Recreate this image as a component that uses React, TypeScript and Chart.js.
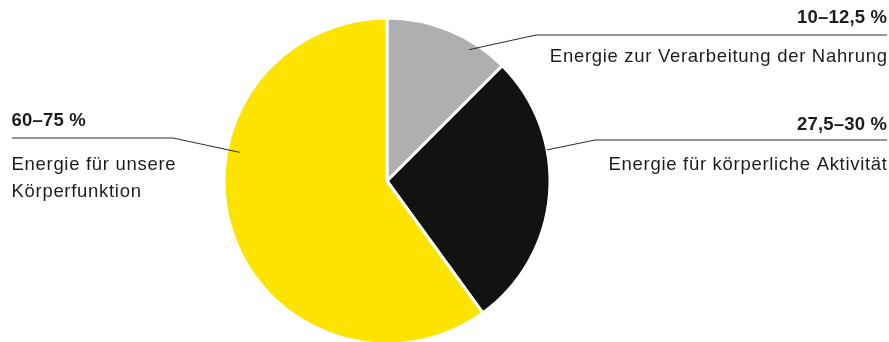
import React, { useEffect, useRef } from "react";
import { Chart, registerables } from "chart.js";

Chart.register(...registerables);

const categories = [
  "Energie zur Verarbeitung der Nahrung",
  "Energie für körperliche Aktivität",
  "Energie für unsere Körperfunktion",
];
const values = [12.5, 27.5, 60];
const valueLabels = ["10–12,5 %", "27,5–30 %", "60–75 %"];
const descLines = [
  ["Energie zur Verarbeitung der Nahrung"],
  ["Energie für körperliche Aktivität"],
  ["Energie für unsere", "Körperfunktion"],
];
const colors = ["#AEAFAE", "#121210", "#FCE300"];

// layout of the annotation callouts (positions only)
const callouts = [
  { angle: 32, rFrac: 0.95, elbow: [536, 35], lineEnd: 887, align: "right", x: 887, valueY: 22.5, descY: [61.5] },
  { angle: 79, rFrac: 1.0, elbow: [595, 140], lineEnd: 887, align: "right", x: 887, valueY: 130, descY: [170] },
  { angle: 281, rFrac: 0.92, elbow: [173, 138], lineEnd: 12, align: "left", x: 11.5, valueY: 125.5, descY: [170, 197] },
];

const TEXT = "#1d1d1b";
const FONT = '"Liberation Sans", Arial, Helvetica, sans-serif';
const BOLD_SPACING = 0.2;
const REG_SPACING = 0.7;

const calloutPlugin = {
  id: "calloutPlugin",
  afterDatasetsDraw(chart: any) {
    const ctx = chart.ctx as CanvasRenderingContext2D;
    const meta = chart.getDatasetMeta(0);
    ctx.save();
    meta.data.forEach((arc: any, i: number) => {
      const c = callouts[i];
      if (!c) return;
      const a = ((c.angle - 90) * Math.PI) / 180;
      const r = arc.outerRadius * c.rFrac;
      const ax = arc.x + r * Math.cos(a);
      const ay = arc.y + r * Math.sin(a);
      ctx.strokeStyle = "#2a2a28";
      ctx.lineWidth = 1;
      ctx.beginPath();
      ctx.moveTo(ax, ay);
      ctx.lineTo(c.elbow[0], c.elbow[1]);
      ctx.lineTo(c.lineEnd, c.elbow[1]);
      ctx.stroke();

      ctx.fillStyle = TEXT;
      ctx.textBaseline = "alphabetic";
      ctx.textAlign = c.align as CanvasTextAlign;
      const anyCtx = ctx as any;
      anyCtx.letterSpacing = `${BOLD_SPACING}px`;
      ctx.font = `bold 18.5px ${FONT}`;
      const shiftB = c.align === "right" ? BOLD_SPACING : 0;
      ctx.fillText(valueLabels[i], c.x + shiftB, c.valueY);
      anyCtx.letterSpacing = `${REG_SPACING}px`;
      ctx.font = `18.5px ${FONT}`;
      const shiftR = c.align === "right" ? REG_SPACING : 0;
      descLines[i].forEach((line, j) => {
        ctx.fillText(line, c.x + shiftR, c.descY[j]);
      });
      anyCtx.letterSpacing = "0px";
    });
    ctx.restore();
  },
};

export default function App() {
  const canvasRef = useRef<HTMLCanvasElement | null>(null);

  useEffect(() => {
    if (!canvasRef.current) return;
    const chart = new Chart(canvasRef.current, {
      type: "pie",
      data: {
        labels: categories,
        datasets: [
          {
            data: values,
            backgroundColor: colors,
            borderColor: "#ffffff",
            borderWidth: 3,
            clip: false as any,
          } as any,
        ],
      },
      options: {
        animation: false,
        responsive: false,
        devicePixelRatio: 1,
        radius: 163,
        layout: { padding: { left: 0, right: 115, top: 20, bottom: 0 } },
        plugins: {
          legend: { display: false },
          tooltip: { enabled: false },
        },
      } as any,
      plugins: [calloutPlugin],
    });
    return () => chart.destroy();
  }, []);

  return (
    <div
      style={{
        position: "fixed",
        left: 0,
        top: 0,
        width: 889,
        height: 342,
        overflow: "hidden",
        background: "#ffffff",
      }}
    >
      <canvas ref={canvasRef} width={889} height={342} style={{ display: "block" }} />
    </div>
  );
}
